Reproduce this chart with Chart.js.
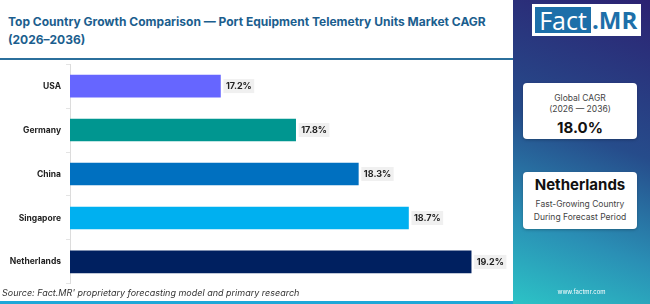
<!DOCTYPE html>
<html>
<head>
<meta charset="utf-8">
<script src="https://cdn.jsdelivr.net/npm/chart.js@4.4.1/dist/chart.umd.min.js"></script>
<style>
  html, body { margin: 0; padding: 0; }
  body { width: 650px; height: 304px; position: relative; overflow: hidden; background: #fff; font-family: 'Inter', 'Open Sans', sans-serif; }
  #title { position: absolute; left: 8px; top: 13px; width: 505px; font-weight: 700; font-size: 12px; line-height: 18px; color: #1b5e8e; }
  #rule { position: absolute; left: 0; top: 58px; width: 513px; height: 2px; background: #2b6f9c; }
  #chartBox { position: absolute; left: 0; top: 54px; width: 512px; height: 240px; }
  #source { position: absolute; left: 2px; top: 287px; font-size: 9px; font-style: italic; color: #333; }
  #bottomRule { position: absolute; left: 0; top: 301px; width: 513px; height: 3px; background: #1ea7d8; }
  #panel { position: absolute; left: 513px; top: 0; width: 137px; height: 304px;
    background: linear-gradient(200deg, #2c2272 0%, #264c8b 45%, #2a8fb5 75%, #2cc3c6 100%); }
  #logo { position: absolute; left: 19px; top: 4px; width: 109px; height: 32px; background: #fff; }
  #logo .fact { position: absolute; left: 3px; top: 3px; width: 56px; height: 26px; background: #1d6fa9; color: #fff; font-size: 25px; line-height: 26px; text-align: center; font-family: 'Open Sans', sans-serif; }
  #logo .mr { position: absolute; left: 60px; top: 3px; color: #1d6fa9; font-size: 24px; line-height: 26px; font-weight: 700; font-family: 'Open Sans', sans-serif; }
  .card { position: absolute; left: 10px; width: 114px; background: #fff; border-radius: 4px; text-align: center; color: #333; box-shadow: 0 1px 3px rgba(0,0,0,0.25); }
  #card1 { top: 83px; height: 56px; }
  #card2 { top: 172px; height: 57px; }
  .small { font-size: 8.5px; line-height: 11px; color: #444; }
  .big { font-size: 15px; font-weight: 700; color: #111; }
  #web { position: absolute; left: 0; width: 137px; top: 288px; text-align: center; font-size: 6px; color: #fff; }
</style>
</head>
<body>
<div id="title">Top Country Growth Comparison — Port Equipment Telemetry Units Market CAGR<br>(2026–2036)</div>
<div id="rule"></div>
<div id="chartBox"><canvas id="growthChart"></canvas></div>
<div id="source">Source: Fact.MR' proprietary forecasting model and primary research</div>
<div id="bottomRule"></div>
<div id="panel">
  <div id="logo"><div class="fact">Fact</div><div class="mr">.MR</div></div>
  <div class="card" id="card1">
    <div class="small" style="margin-top:10px">Global CAGR</div>
    <div class="small">(2026 — 2036)</div>
    <div class="big" style="margin-top:3px">18.0%</div>
  </div>
  <div class="card" id="card2">
    <div class="big" style="margin-top:3px">Netherlands</div>
    <div class="small" style="margin-top:4px; line-height:13px">Fast-Growing Country<br>During Forecast Period</div>
  </div>
  <div id="web">www.factmr.com</div>
</div>
<script>
const countries = ['USA', 'Germany', 'China', 'Singapore', 'Netherlands'];
const cagrValues = [17.2, 17.8, 18.3, 18.7, 19.2];
const barColors = ['#6666ff', '#009690', '#0070c0', '#00b0f0', '#002060'];

// value label with soft grey box next to each bar
const valueLabels = {
    id: 'valueLabels',
    afterDatasetsDraw(chart) {
        const c = chart.ctx;
        const meta = chart.getDatasetMeta(0);
        c.save();
        c.font = '700 9px Inter, sans-serif';
        c.textBaseline = 'middle';
        meta.data.forEach((bar, i) => {
            const txt = cagrValues[i].toFixed(1) + '%';
            const w = c.measureText(txt).width;
            const x = bar.x + 3;
            c.fillStyle = '#f0f0f0';
            c.fillRect(x, bar.y - 7, w + 5, 14);
            c.fillStyle = '#222';
            c.fillText(txt, x + 2.5, bar.y + 0.5);
        });
        c.restore();
    }
};

new Chart(document.getElementById('growthChart'), {
    type: 'bar',
    data: {
        labels: countries,
        datasets: [{
            data: cagrValues,
            backgroundColor: barColors,
            borderWidth: 0,
            barThickness: 22
        }]
    },
    options: {
        indexAxis: 'y',
        responsive: true,
        maintainAspectRatio: false,
        animation: false,
        layout: { padding: { top: 0, bottom: 0, right: 7, left: 0 } },
        plugins: { legend: { display: false }, tooltip: { enabled: false } },
        scales: {
            x: { display: false, min: 16, max: 19.47 },
            y: {
                afterFit: function(scale) { scale.width = 70; },
                grid: { drawOnChartArea: false, tickLength: 4, color: '#e4e4e4' },
                border: { color: '#dcdcdc' },
                ticks: { padding: 5, color: '#222', font: { family: 'Inter', size: 8.5, weight: '700' } }
            }
        }
    },
    plugins: [valueLabels]
});
</script>
</body>
</html>
